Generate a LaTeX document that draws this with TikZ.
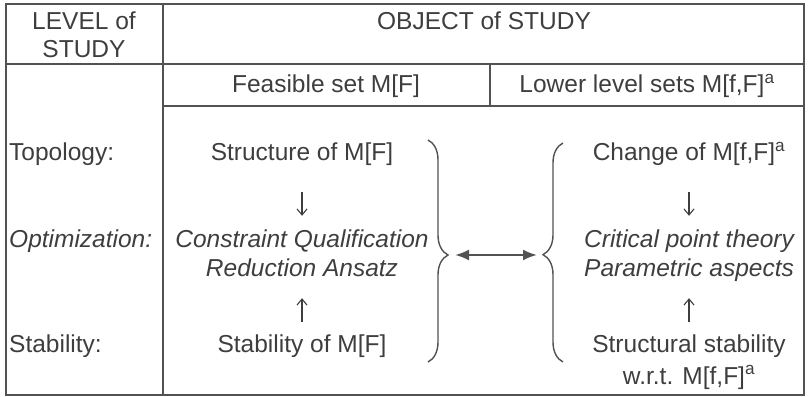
\documentclass[tikz,border=0pt]{standalone}
\usepackage{fontspec}
\setmainfont{Liberation Sans}
\usetikzlibrary{arrows.meta,decorations.pathreplacing}
\definecolor{ink}{RGB}{62,62,62}
\definecolor{rulegray}{RGB}{82,82,82}

\begin{document}
\begin{tikzpicture}[x=1pt, y=1pt, text=ink,
  font=\fontsize{24.5}{27.5}\selectfont,
  it/.style={font=\fontsize{24.5}{27.5}\selectfont\itshape},
  cell/.style={inner sep=0pt, anchor=base},
  entry/.style={inner sep=0pt, anchor=base, text height=18pt, text depth=5pt},
  godown/.style={-{Straight Barb[length=6pt,width=10pt]}, draw=ink, line width=1.1pt, shorten <=26pt, shorten >=14pt},
  goup/.style={-{Straight Barb[length=6pt,width=10pt]}, draw=ink, line width=1.1pt, shorten <=13pt, shorten >=16pt},
  both/.style={{Latex[length=14pt,width=11pt]}-{Latex[length=14pt,width=11pt]}, draw=rulegray, line width=2.2pt, shorten <=7pt, shorten >=6pt},
  curly/.style={decorate, draw=rulegray, line width=1.4pt}]
\useasboundingbox (0,0) rectangle (808,396);

% table rules
\draw[rulegray, line width=1.5pt] (6,1) rectangle (804,392);
\draw[rulegray, line width=1.5pt] (163,1) -- (163,392) (6,332) -- (804,332)
  (163,290) -- (804,290) (490,290) -- (490,332);

% heads
\node[align=center, inner sep=0pt, anchor=north] (level) at (84,384) {LEVEL of\\STUDY};
\node[cell] (object) at (484,366) {OBJECT of STUDY};
\node[cell] (feasible) at (326,303) {Feasible set M[F]};
\node[cell] (lower) at (647,303) {Lower level sets M[f,F]\textsuperscript{a}};

% levels
\node[cell, anchor=base west] (topo) at (9,235) {Topology:};
\node[cell, anchor=base west, it] (optim) at (9,148) {Optimization:};
\node[cell, anchor=base west] (stab) at (9,43) {Stability:};

% feasible set
\node[entry] (struct) at (302,235) {Structure of M[F]};
\node[entry, it] (qual) at (302,148) {Constraint Qualification};
\node[entry, it] (ansatz) at (302,119) {Reduction Ansatz};
\node[entry] (stabf) at (302,43) {Stability of M[F]};

% lower level sets
\node[entry] (change) at (689,235) {Change of M[f,F]\textsuperscript{a}};
\node[entry, it] (crit) at (689,148) {Critical point theory};
\node[entry, it] (param) at (689,119) {Parametric aspects};
\node[entry] (structstab) at (689,43) {Structural stability};
\node[entry] (wrt) at (689,12) {w.r.t. M[f,F]\textsuperscript{a}};

\path[godown] (struct) edge (qual) (change) edge (crit);
\path[goup] (stabf) edge (ansatz) (structstab) edge (param);

% braces
\draw[curly, decoration={brace, amplitude=20pt, aspect=0.518}] (428,256) -- (428,34);
\draw[curly, decoration={brace, amplitude=20pt, aspect=0.49}] (563,34) -- (563,253);
\coordinate (ltip) at (448,141);
\coordinate (rtip) at (543,141);
\draw[both] (ltip) -- (rtip);
\end{tikzpicture}
\end{document}
